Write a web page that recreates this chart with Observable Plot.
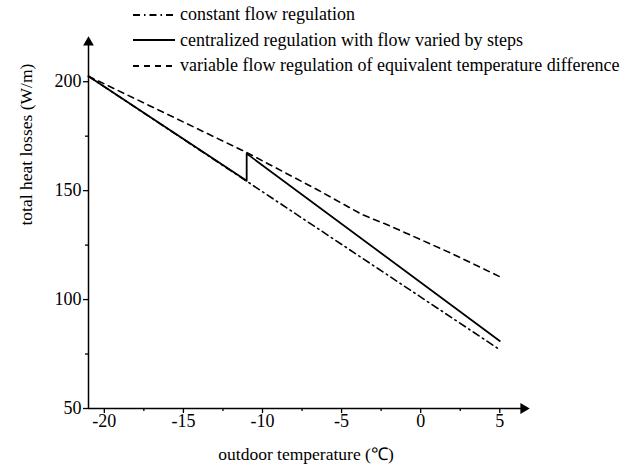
<!DOCTYPE html>
<html><head><meta charset="utf-8">
<script src="https://cdn.jsdelivr.net/npm/d3@7"></script>
<script src="https://cdn.jsdelivr.net/npm/@observablehq/plot@0.6"></script>
<style>
body{margin:0;background:#fff;}
#wrap{position:relative;width:635px;height:470px;font-family:"Liberation Serif","Times New Roman",serif;}
#chart text{font-family:"Liberation Serif","Times New Roman",serif !important;}
#legend{position:absolute;left:133px;top:2px;font-size:18px;color:#000;}
.row{display:flex;align-items:center;height:25.5px;white-space:nowrap;}
.row svg{width:42px;height:10px;margin-right:5px;flex:none;}
</style></head><body><div id="wrap"><div id="chart"></div><div id="legend"></div></div>
<script>
const seriesNames = ["constant flow regulation", "centralized regulation with flow varied by steps", "variable flow regulation of equivalent temperature difference"];
const seriesDash = ["7,4,1.5,4", null, "6,5"];

const constantX = [-21, -10, 5];
const constantY = [202.5, 149.5, 77];
const steppedX = [-21, -11, -11, 5];
const steppedY = [202.5, 154.5, 167, 81];
const variableX = [-21, -15, -11, -6.5, -3.7, -2, 0, 2, 5];
const variableY = [202.5, 181.5, 167.5, 150.3, 139, 134, 127.5, 121, 110.5];

const xTicks = [-20, -15, -10, -5, 0, 5];
const xMinorTicks = [-17.5, -12.5, -7.5, -2.5, 2.5];
const yTicks = [50, 100, 150, 200];
const yMinorTicks = [75, 125, 175];
const xDomain = [-21, 6.5];
const yDomain = [50, 218];
const xLabel = "outdoor temperature (℃)";
const yLabel = "total heat losses (W/m)";

const toRows = (xs, ys) => xs.map((x, i) => ({x, y: ys[i]}));
const constant = toRows(constantX, constantY);
const stepped = toRows(steppedX, steppedY);
const variable = toRows(variableX, variableY);

const serif = '"Liberation Serif", "Times New Roman", serif';
const blank = () => "";

const chart = Plot.plot({
  width: 635, height: 470,
  marginLeft: 88, marginRight: 112, marginTop: 42, marginBottom: 62,
  style: {fontSize: "17px", color: "#000", background: "#fff"},
  x: {domain: xDomain},
  y: {domain: yDomain},
  marks: [
    Plot.axisX(xTicks, {tickSize: 5, tickFormat: blank, label: null, strokeWidth: 1.3}),
    Plot.axisX(xMinorTicks, {tickSize: 3, tickFormat: blank, label: null, strokeWidth: 1.3}),
    Plot.axisY(yTicks, {tickSize: 5, tickFormat: blank, label: null, strokeWidth: 1.3}),
    Plot.axisY(yMinorTicks, {tickSize: 3, tickFormat: blank, label: null, strokeWidth: 1.3}),
    Plot.text(xTicks, {x: d => d, frameAnchor: "bottom", dy: 18, text: d => String(d), fontSize: 18, fontFamily: serif}),
    Plot.text(yTicks, {y: d => d, frameAnchor: "left", dx: -7, textAnchor: "end", text: d => String(d), fontSize: 18, fontFamily: serif}),
    Plot.ruleX([xDomain[0]], {y1: yDomain[0], y2: yDomain[1], strokeWidth: 1.5}),
    Plot.ruleY([yDomain[0]], {x1: xDomain[0], x2: xDomain[1], strokeWidth: 1.5}),
    Plot.dot([{x: xDomain[1], y: yDomain[0]}], {x: "x", y: "y", symbol: "triangle", r: 4, fill: "black", rotate: 90}),
    Plot.dot([{x: xDomain[0], y: yDomain[1]}], {x: "x", y: "y", symbol: "triangle", r: 4, fill: "black"}),
    Plot.line(constant, {x: "x", y: "y", stroke: "black", strokeWidth: 1.6, strokeDasharray: seriesDash[0]}),
    Plot.line(variable, {x: "x", y: "y", stroke: "black", strokeWidth: 1.6, strokeDasharray: seriesDash[2]}),
    Plot.line(stepped, {x: "x", y: "y", stroke: "black", strokeWidth: 1.8}),
    Plot.text([xLabel], {frameAnchor: "bottom", dy: 51, text: d => d, fontSize: 17.5, fontFamily: serif}),
    Plot.text([yLabel], {frameAnchor: "left", dx: -62, rotate: -90, text: d => d, fontSize: 17.5, fontFamily: serif})
  ]
});
document.getElementById("chart").appendChild(chart);

const legend = document.getElementById("legend");
seriesNames.forEach((name, i) => {
  const row = document.createElement("div");
  row.className = "row";
  const dash = seriesDash[i] ? ` stroke-dasharray="${seriesDash[i]}"` : "";
  row.innerHTML = `<svg viewBox="0 0 42 10"><line x1="0" y1="5" x2="42" y2="5" stroke="black" stroke-width="1.8"${dash}/></svg><span>${name}</span>`;
  legend.appendChild(row);
});
</script>
</body></html>
